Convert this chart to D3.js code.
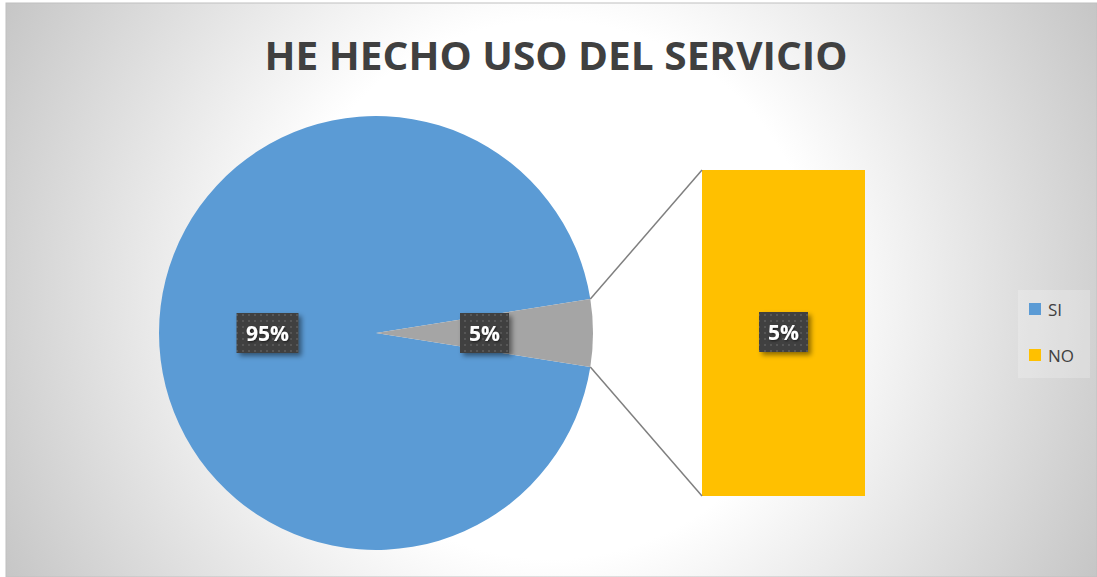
<!DOCTYPE html>
<html><head><meta charset="utf-8">
<script src="https://cdn.jsdelivr.net/npm/d3@7"></script>
<style>html,body{margin:0;padding:0;background:#fff;}svg{display:block;}</style>
</head><body>
<svg id="chart" width="1097" height="577"></svg>
<script>
const title = "HE HECHO USO DEL SERVICIO";
const categories = ["SI", "NO"];
const values = [95, 5];
const pieSeries = ["SI", "Otro"];
const barSeries = ["NO"];
const colors = ["#5b9bd5", "#ffc000"];
const otherColor = "#a5a5a5";

const svg = d3.select("#chart");
const W = 1097, H = 577;
const defs = svg.append("defs");

const grad = defs.append("radialGradient").attr("id","bg").attr("gradientUnits","userSpaceOnUse")
  .attr("cx",550).attr("cy",290).attr("r",640);
grad.append("stop").attr("offset","0").attr("stop-color","#ffffff");
grad.append("stop").attr("offset","0.42").attr("stop-color","#ffffff");
grad.append("stop").attr("offset","1").attr("stop-color","#c2c2c2");

const pat = defs.append("pattern").attr("id","dots").attr("patternUnits","userSpaceOnUse")
  .attr("width",6).attr("height",6);
pat.append("rect").attr("width",6).attr("height",6).attr("fill","#404040");
pat.append("rect").attr("x",2).attr("y",2).attr("width",2).attr("height",2).attr("fill","#575757");

const sh = defs.append("filter").attr("id","shadow").attr("x","-30%").attr("y","-30%").attr("width","160%").attr("height","160%");
sh.append("feDropShadow").attr("dx",3).attr("dy",3).attr("stdDeviation",2.5).attr("flood-color","#000").attr("flood-opacity",0.45);
const tsh = defs.append("filter").attr("id","tshadow").attr("x","-20%").attr("y","-20%").attr("width","140%").attr("height","140%");
tsh.append("feDropShadow").attr("dx",1).attr("dy",1).attr("stdDeviation",1).attr("flood-color","#000").attr("flood-opacity",0.6);

svg.append("rect").attr("x",6).attr("y",3).attr("width",W-6).attr("height",H-3)
  .attr("fill","url(#bg)").attr("stroke","#c0c0c0").attr("stroke-width",1);

svg.append("text").attr("x",556).attr("y",70).attr("text-anchor","middle")
  .attr("font-family","'Open Sans', sans-serif").attr("font-weight",700).attr("font-size",39)
  .attr("fill","#404040").attr("textLength",583).attr("lengthAdjust","spacingAndGlyphs").text(title);

// pie of bar
const total = d3.sum(values);
const otherVal = values[1];
const pieData = [{name: pieSeries[0], value: values[0], color: colors[0]},
                 {name: pieSeries[1], value: otherVal, color: otherColor}];
const cx = 376, cy = 333, R = 217;
const otherSpan = 2*Math.PI*otherVal/total;
const pie = d3.pie().value(d => d.value).sort(null)
  .startAngle(Math.PI/2 + otherSpan/2).endAngle(Math.PI/2 + otherSpan/2 + 2*Math.PI);
const arcs = pie(pieData);
const arc = d3.arc().innerRadius(0).outerRadius(R);
const g = svg.append("g").attr("transform",`translate(${cx},${cy})`);
g.selectAll("path").data(arcs).join("path").attr("d",arc).attr("fill",d => d.data.color);

// bar (stacked)
const barX = 702, barW = 163, barTop = 170, barBottom = 496;
const y = d3.scaleLinear().domain([0, otherVal]).range([barBottom, barTop]);
const barData = [{name: barSeries[0], value: values[1], color: colors[1]}];
let acc = 0;
barData.forEach(d => { d.y0 = acc; acc += d.value; d.y1 = acc; });
svg.selectAll("rect.bar").data(barData).join("rect").attr("class","bar")
  .attr("x",barX).attr("width",barW).attr("y",d => y(d.y1)).attr("height",d => y(d.y0)-y(d.y1))
  .attr("fill",d => d.color);

// connector lines
const a0 = Math.PI/2 - otherSpan/2, a1 = Math.PI/2 + otherSpan/2;
const p0 = [cx + R*Math.sin(a0), cy - R*Math.cos(a0)];
const p1 = [cx + R*Math.sin(a1), cy - R*Math.cos(a1)];
svg.append("line").attr("x1",p0[0]).attr("y1",p0[1]).attr("x2",barX).attr("y2",barTop).attr("stroke","#7f7f7f").attr("stroke-width",1.5);
svg.append("line").attr("x1",p1[0]).attr("y1",p1[1]).attr("x2",barX).attr("y2",barBottom).attr("stroke","#7f7f7f").attr("stroke-width",1.5);

// labels
function label(x, yy, txt){
  const w = txt.length > 2 ? 62 : 49, h = 40;
  const lg = svg.append("g");
  lg.append("rect").attr("x",x-w/2).attr("y",yy-h/2).attr("width",w).attr("height",h)
    .attr("fill","url(#dots)").attr("filter","url(#shadow)");
  lg.append("text").attr("x",x).attr("y",yy+8).attr("text-anchor","middle")
    .attr("font-family","'Open Sans', sans-serif").attr("font-weight",700).attr("font-size",21)
    .attr("fill","#ffffff").attr("filter","url(#tshadow)").text(txt);
}
const fmt = v => Math.round(v/total*100) + "%";
arcs.forEach(a => {
  const mid = (a.startAngle + a.endAngle)/2;
  label(cx + R*0.5*Math.sin(mid), cy - R*0.5*Math.cos(mid), fmt(a.data.value));
});
barData.forEach(d => label(barX + barW/2, (y(d.y0)+y(d.y1))/2 - 1, fmt(d.value)));

// legend
svg.append("rect").attr("x",1018).attr("y",290).attr("width",72).attr("height",88)
  .attr("fill","#ffffff").attr("opacity",0.22);
const leg = svg.selectAll("g.leg").data(categories).join("g").attr("class","leg")
  .attr("transform",(d,i) => `translate(1029,${303 + i*46})`);
leg.append("rect").attr("width",12).attr("height",12).attr("fill",(d,i) => colors[i]);
leg.append("text").attr("x",19).attr("y",13).attr("font-family","'Open Sans', sans-serif")
  .attr("font-size",17).attr("fill","#404040").text(d => d);
</script>
</body></html>
